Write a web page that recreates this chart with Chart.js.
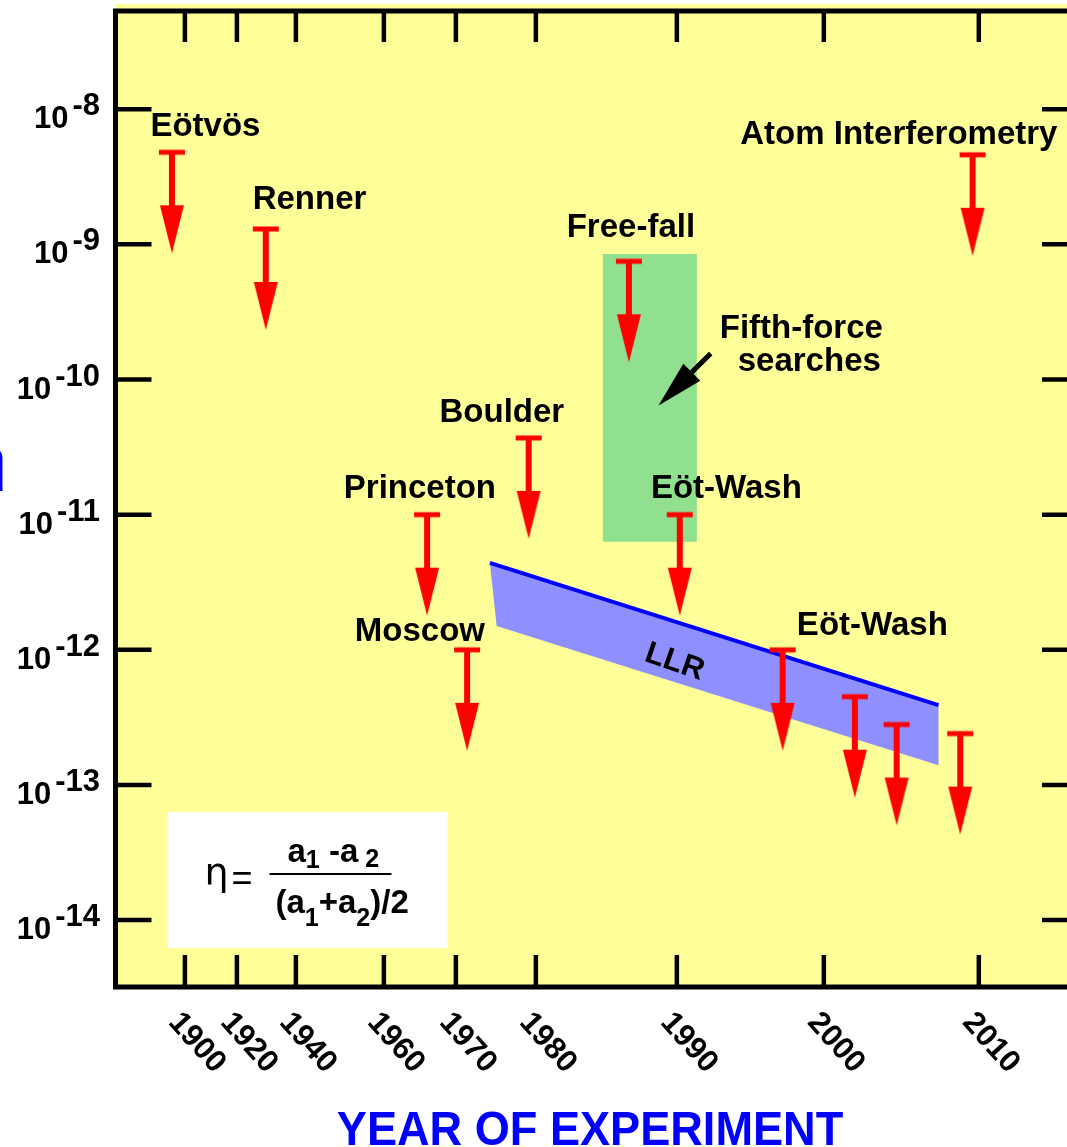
<!DOCTYPE html>
<html><head><meta charset="utf-8">
<script src="https://cdn.jsdelivr.net/npm/chart.js@4.4.1/dist/chart.umd.min.js"></script>
<style>html,body{margin:0;padding:0;background:#fff;overflow:hidden;width:1067px;height:1147px}#wrap{width:1067px;height:1147px;overflow:hidden;position:relative}canvas{display:block}</style>
</head><body>
<div id="wrap"><canvas id="c" width="1090" height="1147"></canvas></div>
<script>
// ---------------- data ----------------
const tickYears = [1900, 1920, 1940, 1960, 1970, 1980, 1990, 2000, 2010];
// relative spacing of the (non-uniform) year axis, in axis units
const tickSpacing = [0, 52, 111, 199, 271, 351, 492, 639, 794];
const yTickValues = [1e-8, 1e-9, 1e-10, 1e-11, 1e-12, 1e-13, 1e-14];
const yTickSuper = ['-8', '-9', '-10', '-11', '-12', '-13', '-14'];

const experimentNames = ['Eötvös', 'Renner', 'Princeton', 'Moscow', 'Boulder', 'Free-fall',
  'Eöt-Wash', 'Eöt-Wash', 'Eöt-Wash', 'Eöt-Wash', 'Eöt-Wash', 'Atom Interferometry'];
const experimentYears = [1895.0, 1929.8, 1966.0, 1971.4, 1979.1, 1986.6,
  1990.2, 1997.2, 2002.0, 2004.7, 2008.8, 2009.6];
const experimentLimits = [4.8e-9, 1.3e-9, 1.0e-11, 1.0e-12, 3.7e-11, 7.5e-10,
  1.0e-11, 1.0e-12, 4.5e-13, 2.8e-13, 2.4e-13, 4.6e-9];

const fifthForceYears = [1984.75, 1991.36];
const fifthForceRange = [8.5e-10, 6.3e-12];

const llrUpperYears = [1974.25, 2007.4];
const llrUpper = [4.4e-12, 3.9e-13];
const llrLowerYears = [1975.1, 2007.4];
const llrLower = [1.5e-12, 1.4e-13];

// annotation text anchors (year, eta)
const labelTexts = ['Eötvös', 'Renner', 'Free-fall', 'Fifth-force', 'searches', 'Boulder',
  'Princeton', 'Eöt-Wash', 'Moscow', 'Eöt-Wash', 'Atom Interferometry'];
const labelYears = [1907.9, 1943.1, 1986.74, 1998.47, 1999.01, 1975.75,
  1965.0, 1993.37, 1965.0, 2003.13, 2004.84];
const labelValues = [7.76e-9, 2.25e-9, 1.40e-9, 2.47e-10, 1.41e-10, 5.9e-11,
  1.62e-11, 1.62e-11, 1.42e-12, 1.57e-12, 6.8e-9];
const llrLabelYear = 1989.9, llrLabelValue = 8.4e-13;
const pointerYears = [1992.3, 1988.7];
const pointerValues = [1.56e-10, 6.43e-11];

const X_MIN = 1873.3, X_MAX = 2016.4;
const Y_MIN = 3.2e-15, Y_MAX = 5.33e-8;

// ---------------- non-uniform year scale ----------------
function yearToUnit(v) {
  const n = tickYears.length;
  let i = 0;
  if (v <= tickYears[0]) i = 0;
  else if (v >= tickYears[n - 1]) i = n - 2;
  else { while (v > tickYears[i + 1]) i++; }
  const s = (tickSpacing[i + 1] - tickSpacing[i]) / (tickYears[i + 1] - tickYears[i]);
  return tickSpacing[i] + (v - tickYears[i]) * s;
}
function unitToYear(u) {
  const n = tickSpacing.length;
  let i = 0;
  if (u <= tickSpacing[0]) i = 0;
  else if (u >= tickSpacing[n - 1]) i = n - 2;
  else { while (u > tickSpacing[i + 1]) i++; }
  const s = (tickYears[i + 1] - tickYears[i]) / (tickSpacing[i + 1] - tickSpacing[i]);
  return tickYears[i] + (u - tickSpacing[i]) * s;
}
const BaseLinear = Chart.LinearScale || Chart.registry.getScale('linear');
class YearScale extends BaseLinear {
  buildTicks() { return tickYears.map(v => ({ value: v })); }
  getPixelForValue(v) {
    const u0 = yearToUnit(this.min), u1 = yearToUnit(this.max);
    return this.left + (yearToUnit(v) - u0) / (u1 - u0) * this.width;
  }
  getValueForPixel(p) {
    const u0 = yearToUnit(this.min), u1 = yearToUnit(this.max);
    return unitToYear(u0 + (p - this.left) / this.width * (u1 - u0));
  }
}
YearScale.id = 'yearscale';
YearScale.defaults = {};
Chart.register(YearScale);

// ---------------- upper-limit glyph (cap + arrow), centred on the cap ----------------
const glyph = document.createElement('canvas');
glyph.width = 28; glyph.height = 204;
(function () {
  const g = glyph.getContext('2d');
  const c = 102;
  g.fillStyle = '#ff0000';
  g.fillRect(1, c - 2.5, 26, 5);
  g.fillRect(11, c, 6, 55);
  g.beginPath();
  g.moveTo(2, c + 53); g.lineTo(26, c + 53); g.lineTo(14, c + 101); g.closePath();
  g.fill();
})();

const FONT = '"Liberation Sans", Arial, Helvetica, sans-serif';

const decor = {
  id: 'decor',
  beforeDraw(chart) {
    const { ctx, chartArea: a } = chart;
    ctx.save();
    ctx.fillStyle = '#ffffff';
    ctx.fillRect(0, 0, chart.width, chart.height);
    ctx.fillStyle = '#ffff99';
    ctx.fillRect(a.left, 4, a.right - a.left, a.bottom - 4);
    ctx.fillStyle = '#ffffff';
    ctx.fillRect(a.left + 52, a.bottom - 175, 280, 136);
    ctx.restore();
  },
  afterDraw(chart) {
    const { ctx, chartArea: a } = chart;
    const xs = chart.scales.x, ys = chart.scales.y;
    const line = (x1, y1, x2, y2) => { ctx.beginPath(); ctx.moveTo(x1, y1); ctx.lineTo(x2, y2); ctx.stroke(); };
    ctx.save();
    // frame
    ctx.strokeStyle = '#000'; ctx.lineWidth = 5;
    ctx.strokeRect(a.left, a.top, a.right - a.left, a.bottom - a.top);
    // inward ticks
    ctx.lineWidth = 4.5;
    tickYears.forEach(yr => {
      const px = xs.getPixelForValue(yr);
      line(px, a.top, px, a.top + 31);
      line(px, a.bottom, px, a.bottom - 32);
    });
    yTickValues.forEach(v => {
      const py = ys.getPixelForValue(v);
      line(a.left, py, a.left + 36, py);
      line(a.right, py, a.right - 36, py);
    });
    // x tick labels (rotated)
    ctx.fillStyle = '#000';
    ctx.font = 'bold 31px ' + FONT;
    ctx.textAlign = 'center'; ctx.textBaseline = 'middle';
    tickYears.forEach(yr => {
      const px = xs.getPixelForValue(yr);
      ctx.save();
      ctx.translate(px + 12, a.bottom + 56);
      ctx.rotate(48 * Math.PI / 180);
      ctx.fillText(String(yr), 0, 0);
      ctx.restore();
    });
    // y tick labels 10^n
    ctx.textBaseline = 'alphabetic';
    yTickValues.forEach((v, i) => {
      const py = ys.getPixelForValue(v);
      ctx.font = 'bold 31px ' + FONT;
      const sw = ctx.measureText(yTickSuper[i]).width;
      ctx.textAlign = 'left';
      ctx.fillText(yTickSuper[i], 100 - sw, py + 6);
      ctx.textAlign = 'right';
      ctx.fillText('10', 100 - sw - 4, py + 19);
    });
    // annotation labels
    ctx.font = 'bold 33px ' + FONT;
    ctx.textAlign = 'center';
    labelTexts.forEach((t, i) => {
      const px = xs.getPixelForValue(labelYears[i]);
      const py = ys.getPixelForValue(labelValues[i]);
      ctx.fillText(t, px, py + 12);
    });
    // LLR label, rotated along the band
    {
      const x0 = xs.getPixelForValue(llrUpperYears[0]), y0 = ys.getPixelForValue(llrUpper[0]);
      const x1 = xs.getPixelForValue(llrUpperYears[1]), y1 = ys.getPixelForValue(llrUpper[1]);
      const ang = Math.atan2(y1 - y0, x1 - x0);
      ctx.save();
      ctx.translate(xs.getPixelForValue(llrLabelYear), ys.getPixelForValue(llrLabelValue));
      ctx.rotate(ang + 1.5 * Math.PI / 180);
      ctx.font = 'bold 31px ' + FONT;
      ctx.textAlign = 'center'; ctx.textBaseline = 'alphabetic';
      ctx.fillText('LLR', 0, 11);
      ctx.restore();
    }
    // pointer arrow to the fifth-force region
    {
      const sx = xs.getPixelForValue(pointerYears[0]), sy = ys.getPixelForValue(pointerValues[0]);
      const ex = xs.getPixelForValue(pointerYears[1]), ey = ys.getPixelForValue(pointerValues[1]);
      const ang = Math.atan2(ey - sy, ex - sx);
      const c = Math.cos(ang), s = Math.sin(ang);
      const bx = ex - 47 * c, by = ey - 47 * s;
      ctx.strokeStyle = '#000'; ctx.lineWidth = 5;
      line(sx, sy, bx, by);
      ctx.beginPath();
      ctx.moveTo(ex, ey);
      ctx.lineTo(bx + 12 * s, by - 12 * c);
      ctx.lineTo(bx - 12 * s, by + 12 * c);
      ctx.closePath(); ctx.fill();
    }
    // definition box formula
    {
      const bx = a.left + 52, by = a.bottom - 175;
      ctx.fillStyle = '#000';
      ctx.textAlign = 'left'; ctx.textBaseline = 'alphabetic';
      ctx.font = '38px "DejaVu Sans", sans-serif';
      ctx.fillText('η', bx + 37, by + 73);
      ctx.font = '36px ' + FONT;
      ctx.fillText('=', bx + 64, by + 78);
      const runs = (x0, base, parts) => {
        let x = x0;
        parts.forEach(([t, size, dy]) => {
          ctx.font = 'bold ' + size + 'px ' + FONT;
          ctx.fillText(t, x, base + dy);
          x += ctx.measureText(t).width;
        });
      };
      runs(bx + 120, by + 50, [['a', 33, 0], ['1', 25, 6], [' -', 33, 0], ['a', 33, 0], [' ', 25, 6], ['2', 25, 5]]);
      ctx.lineWidth = 2;
      line(bx + 102, by + 62, bx + 224, by + 62);
      runs(bx + 108, by + 101, [['(', 33, 0], ['a', 33, 0], ['1', 25, 13], ['+', 33, 0], ['a', 33, 0], ['2', 25, 13], [')', 33, 0], ['/', 33, 0], ['2', 33, 0]]);
    }
    // axis title
    ctx.save();
    ctx.translate(590, 1145);
    ctx.scale(0.94, 1);
    ctx.fillStyle = '#0000ff';
    ctx.font = 'bold 48px ' + FONT;
    ctx.textAlign = 'center'; ctx.textBaseline = 'alphabetic';
    ctx.fillText('YEAR OF EXPERIMENT', 0, 0);
    ctx.restore();
    // clipped y-axis title (only its edge is visible)
    ctx.fillStyle = '#0000ff';
    ctx.font = '58px ' + FONT;
    ctx.textAlign = 'left';
    ctx.fillText('η', -26, 479);
    ctx.restore();
  }
};

new Chart(document.getElementById('c'), {
  type: 'scatter',
  data: {
    datasets: [
      {
        type: 'scatter',
        label: 'Upper limits',
        data: experimentYears.map((yr, i) => ({ x: yr, y: experimentLimits[i] })),
        pointStyle: glyph,
        pointRadius: 10,
        pointHoverRadius: 10,
        showLine: false
      },
      {
        type: 'line',
        label: 'LLR upper edge',
        data: llrUpperYears.map((yr, i) => ({ x: yr, y: llrUpper[i] })),
        borderColor: '#0000ff',
        borderWidth: 4,
        pointRadius: 0,
        fill: false
      },
      {
        type: 'line',
        label: 'LLR',
        data: [
          { x: llrUpperYears[0], y: llrUpper[0] },
          { x: llrUpperYears[1], y: llrUpper[1] },
          { x: llrLowerYears[1], y: llrLower[1] },
          { x: llrLowerYears[0], y: llrLower[0] }
        ],
        fill: 'shape',
        backgroundColor: '#8f8fff',
        borderColor: 'rgba(0,0,0,0)',
        borderWidth: 0,
        pointRadius: 0
      },
      {
        type: 'line',
        label: 'Fifth-force searches',
        data: [
          { x: fifthForceYears[0], y: fifthForceRange[0] },
          { x: fifthForceYears[1], y: fifthForceRange[0] },
          { x: fifthForceYears[1], y: fifthForceRange[1] },
          { x: fifthForceYears[0], y: fifthForceRange[1] }
        ],
        fill: 'shape',
        backgroundColor: '#90e090',
        borderColor: 'rgba(0,0,0,0)',
        borderWidth: 0,
        pointRadius: 0
      }
    ]
  },
  options: {
    responsive: false,
    animation: false,
    devicePixelRatio: 1,
    events: [],
    layout: { padding: { left: 115.5, top: 10, right: 12, bottom: 160 } },
    scales: {
      x: { type: 'yearscale', min: X_MIN, max: X_MAX, display: false },
      y: { type: 'logarithmic', min: Y_MIN, max: Y_MAX, bounds: 'data', display: false }
    },
    plugins: { legend: { display: false }, tooltip: { enabled: false } }
  },
  plugins: [decor]
});
</script>
</body></html>
